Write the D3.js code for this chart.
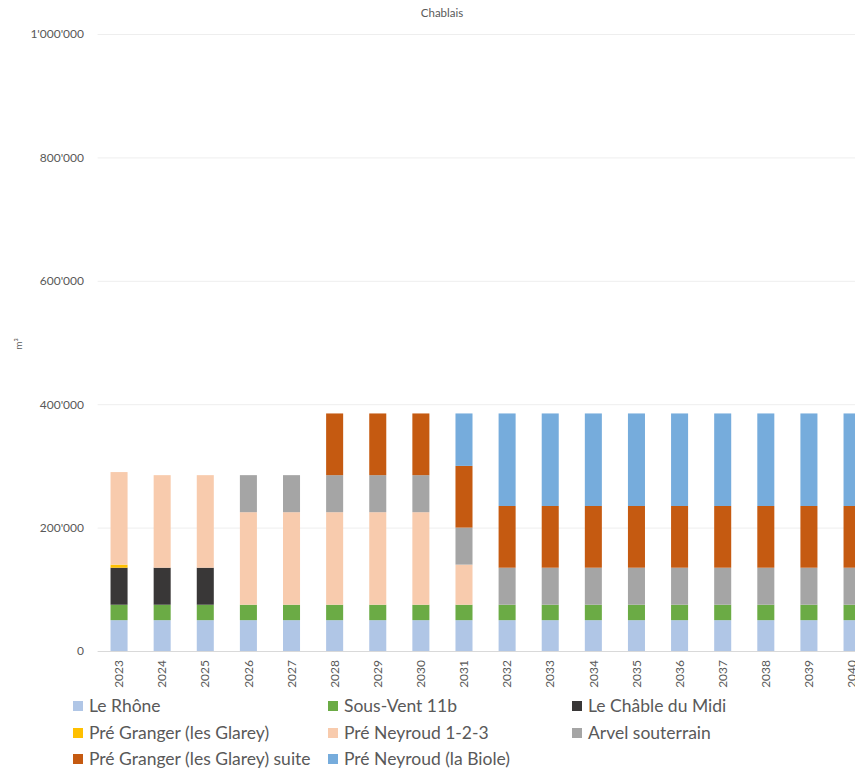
<!DOCTYPE html>
<html><head><meta charset="utf-8">
<script src="https://cdn.jsdelivr.net/npm/d3@7"></script>
<style>
html,body{margin:0;padding:0;background:#fff;overflow:hidden}
text{font-family:Lato,"Open Sans",sans-serif}
</style></head>
<body>
<svg id="chart" width="855" height="771"></svg>
<script>
const years = ["2023","2024","2025","2026","2027","2028","2029","2030","2031","2032","2033","2034","2035","2036","2037","2038","2039","2040"];
const seriesNames = ["Le Rhône","Sous-Vent 11b","Le Châble du Midi","Pré Granger (les Glarey)","Pré Neyroud 1-2-3","Arvel souterrain","Pré Granger (les Glarey) suite","Pré Neyroud (la Biole)"];
const leRhone      = [50000,50000,50000,50000,50000,50000,50000,50000,50000,50000,50000,50000,50000,50000,50000,50000,50000,50000];
const sousVent     = [25000,25000,25000,25000,25000,25000,25000,25000,25000,25000,25000,25000,25000,25000,25000,25000,25000,25000];
const chable       = [60000,60000,60000,0,0,0,0,0,0,0,0,0,0,0,0,0,0,0];
const preGranger   = [5000,0,0,0,0,0,0,0,0,0,0,0,0,0,0,0,0,0];
const preNeyroud   = [150000,150000,150000,150000,150000,150000,150000,150000,65000,0,0,0,0,0,0,0,0,0];
const arvel        = [0,0,0,60000,60000,60000,60000,60000,60000,60000,60000,60000,60000,60000,60000,60000,60000,60000];
const grangerSuite = [0,0,0,0,0,100000,100000,100000,100000,100000,100000,100000,100000,100000,100000,100000,100000,100000];
const biole        = [0,0,0,0,0,0,0,0,85000,150000,150000,150000,150000,150000,150000,150000,150000,150000];
const yTicks = [0,200000,400000,600000,800000,1000000];
const colors = ["#b0c6e6","#6bab45","#393737","#ffc000","#f8cbad","#a5a5a5","#c55a11","#76acdc"];

const seriesValues = [leRhone,sousVent,chable,preGranger,preNeyroud,arvel,grangerSuite,biole];
const table = years.map((y,i)=>{const o={year:y}; seriesNames.forEach((n,k)=>o[n]=seriesValues[k][i]); return o;});

const svg = d3.select("#chart");
const x = d3.scaleBand().domain(years).range([97.6,873.5]).paddingInner(0.605).paddingOuter(0.3);
const y = d3.scaleLinear().domain([0,1000000]).range([651,34]);
const color = d3.scaleOrdinal().domain(seriesNames).range(colors);
const fmt = v => d3.format(",")(v).replace(/,/g,"'");

// gridlines
svg.append("g").selectAll("line").data(yTicks).join("line")
  .attr("x1",97.6).attr("x2",873.5)
  .attr("y1",d=>y(d)+0.5).attr("y2",d=>y(d)+0.5)
  .attr("stroke",d=>d===0?"#d9d9d9":"#eeeeee").attr("stroke-width",1);

// y axis labels
const yAxis = d3.axisLeft(y).tickValues(yTicks).tickFormat(fmt).tickSize(0).tickPadding(0);
const gy = svg.append("g").attr("transform","translate(84,0)").call(yAxis);
gy.select(".domain").remove();
gy.selectAll("text").attr("font-size",12).attr("fill","#595959").attr("font-family","Lato");

// bars
const stack = d3.stack().keys(seriesNames)(table);
svg.append("g").selectAll("g").data(stack).join("g")
  .attr("fill",d=>color(d.key))
  .selectAll("rect").data(d=>d).join("rect")
  .attr("x",d=>x(d.data.year))
  .attr("width",x.bandwidth())
  .attr("y",d=>y(d[1]))
  .attr("height",d=>y(d[0])-y(d[1]));

// x axis labels
const xAxis = d3.axisBottom(x).tickSize(0).tickPadding(0);
const gx = svg.append("g").attr("transform","translate(0,651)").call(xAxis);
gx.select(".domain").remove();
gx.selectAll("text")
  .attr("font-size",12).attr("fill","#595959").attr("font-family","Lato")
  .attr("text-anchor","end").attr("dy","0.35em")
  .attr("transform","translate(0,9) rotate(-90)").attr("x",0).attr("y",0);

// title
svg.append("text").attr("x",442).attr("y",17).attr("text-anchor","middle")
  .attr("font-size",11.5).attr("fill","#595959").text("Chablais");

// y axis title
svg.append("text").attr("transform","translate(22,344) rotate(-90)")
  .attr("text-anchor","middle").attr("font-size",10).attr("fill","#595959").text("m³");

// legend
const legPos = [[73,706],[328,706],[572,706],[73,733],[328,733],[572,733],[73,759],[328,759]];
const leg = svg.append("g").selectAll("g").data(seriesNames).join("g")
  .attr("transform",(d,i)=>`translate(${legPos[i][0]},${legPos[i][1]})`);
leg.append("rect").attr("x",0).attr("y",-5).attr("width",10).attr("height",10).attr("fill",d=>color(d));
leg.append("text").attr("x",16).attr("y",0).attr("dy","0.35em")
  .attr("font-size",17.5).attr("fill","#595959").text(d=>d);
</script>
</body></html>
